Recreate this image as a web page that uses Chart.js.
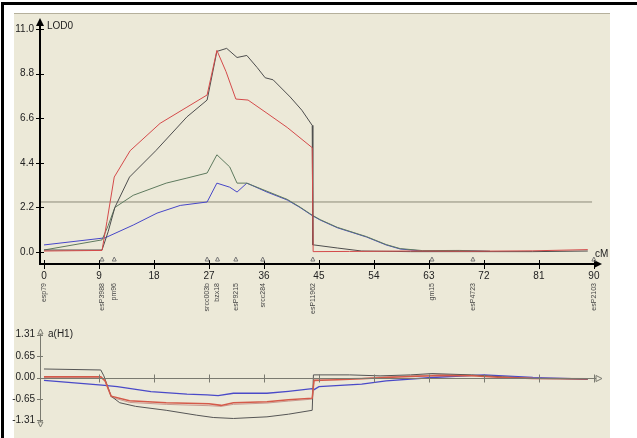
<!DOCTYPE html>
<html>
<head>
<meta charset="utf-8">
<title>LOD profile</title>
<script src="https://cdn.jsdelivr.net/npm/chart.js@4.4.0/dist/chart.umd.min.js"></script>
<style>
    body { margin: 0; width: 637px; height: 438px; overflow: hidden; position: relative; background: #fff; }
    #frame { position: absolute; left: 1px; top: 2px; width: 640px; height: 440px; border-top: 3px solid #000; border-left: 3px solid #000; }
    #panel { position: absolute; left: 14px; top: 13px; width: 596px; height: 425px; background: #ece9d8; border-top: 1px solid #b5b09c; }
    #lodChart { position: absolute; left: 0; top: 0; }
    #effectChart { position: absolute; left: 0; top: 318px; }
</style>
</head>
<body>
<div id="frame"></div>
<div id="panel"></div>
<canvas id="lodChart" width="637" height="330"></canvas>
<canvas id="effectChart" width="637" height="120"></canvas>
<script>
// Axis ticks
const cmTicks = [0, 9, 18, 27, 36, 45, 54, 63, 72, 81, 90];
const lodTicks = [0, 2.2, 4.4, 6.6, 8.8, 11.0];
const effectTicks = [-1.31, -0.65, 0, 0.65, 1.31];

// Markers along the map (cM) and their names
const markerPos = [0, 9.5, 11.5, 26.7, 28.4, 31.4, 35.8, 44, 63.5, 70.2, 90];
const markerNames = ['esp79', 'esP3988', 'pm96', 'srcc003b', 'bzx18', 'esP9215', 'srcc284', 'esP11962', 'gm15', 'esP4723', 'esP2103'];

// LOD threshold
const thresholdPos = [-0.65, 89.7];
const thresholdLod = [2.47, 2.47];

// LOD profiles (top panel)
const redPos = [0, 9.5, 10.3, 11.5, 14.1, 19, 23.4, 26.7, 28.3, 29.8, 31.4, 33.4, 36.5, 39.8, 43.9, 44.05, 50, 60, 70, 80, 89];
const redLod = [0.05, 0.08, 1.5, 3.7, 5.0, 6.35, 7.15, 7.75, 9.95, 8.9, 7.55, 7.5, 6.85, 6.15, 5.15, 0.02, 0.03, 0.05, 0.04, 0.06, 0.12];

const blackPos = [0, 9.5, 10.5, 11.6, 14, 18.3, 23.4, 26.7, 28.3, 29.9, 31.6, 33.2, 34.9, 36.2, 37.5, 40.3, 42.2, 43.9, 44.0, 44.2, 48, 52, 60, 70, 80, 89];
const blackLod = [0.1, 0.1, 1.0, 2.2, 3.7, 5.0, 6.67, 7.5, 9.9, 10.05, 9.6, 9.7, 9.1, 8.6, 8.5, 7.65, 7.0, 6.25, 0.35, 0.35, 0.2, 0.05, 0.02, 0.02, 0.02, 0.05];

const greenPos = [0, 9.5, 10.5, 11.6, 14.6, 20, 23.4, 26.7, 28.3, 30.4, 31.6, 33.2, 36.5, 39.8, 41.9, 43.9, 45.2, 48, 52.8, 56, 58.3, 62, 68, 73];
const greenLod = [0.1, 0.6, 1.3, 2.2, 2.8, 3.4, 3.65, 3.9, 4.8, 4.2, 3.4, 3.4, 3.0, 2.6, 2.22, 1.82, 1.6, 1.22, 0.76, 0.37, 0.17, 0.07, 0.08, 0.04];

const bluePos = [0, 10, 14.6, 18.5, 22.3, 26.7, 28.3, 30.4, 31.6, 33.2, 36.5, 39.8, 41.9, 43.9, 45.2, 48, 52.8, 56, 58.3, 62, 68, 73];
const blueLod = [0.35, 0.7, 1.33, 1.92, 2.3, 2.47, 3.4, 3.2, 2.96, 3.4, 2.96, 2.57, 2.2, 1.8, 1.58, 1.2, 0.74, 0.35, 0.15, 0.05, 0.07, 0.03];

// Additive effect a(H1) (bottom panel)
const redEffPos = [0, 9.3, 10, 11, 14, 20, 27, 29, 31, 36.5, 40, 43.9, 44.2, 48, 52, 56, 60, 65, 70, 75, 80, 89];
const redEff = [0.02, 0.02, -0.1, -0.57, -0.71, -0.77, -0.8, -0.85, -0.77, -0.74, -0.68, -0.63, -0.09, -0.07, -0.04, 0.0, 0.03, 0.06, 0.05, 0.0, -0.03, -0.04];

const blackEffPos = [0, 9.3, 9.8, 11, 12.4, 15, 20, 25, 27.7, 31, 36.5, 40, 43.9, 44.1, 50, 55, 60, 63.5, 70, 75, 80, 89];
const blackEff = [0.26, 0.23, 0.05, -0.57, -0.77, -0.88, -1.0, -1.15, -1.22, -1.25, -1.2, -1.12, -1.0, 0.08, 0.08, 0.05, 0.08, 0.12, 0.08, 0.02, -0.03, -0.05];

const greenEffPos = [0, 9.3, 10, 11, 14, 20, 27, 29, 31, 36.5, 40, 43.9, 44.2, 48, 52, 56, 60, 65, 70, 75, 80, 89];
const greenEff = [0.0, 0.0, -0.12, -0.6, -0.76, -0.82, -0.86, -0.88, -0.82, -0.78, -0.72, -0.66, -0.05, -0.04, -0.02, 0.02, 0.05, 0.09, 0.07, 0.02, -0.02, -0.03];

const blueEffPos = [0, 9.5, 12, 17.5, 23.4, 26.7, 28.5, 31, 36.5, 40, 43.9, 44.2, 45, 52, 56, 63.5, 72, 80, 89];
const blueEff = [-0.09, -0.23, -0.28, -0.43, -0.51, -0.53, -0.55, -0.48, -0.48, -0.42, -0.34, -0.37, -0.28, -0.2, -0.1, 0.0, 0.08, 0.0, -0.05];

const xMin = -0.65;
const xMax = 91;

function toPoints(xs, ys) {
    return xs.map((x, i) => ({ x: x, y: ys[i] }));
}

function lineSet(xs, ys, color, width) {
    return {
        data: toPoints(xs, ys),
        borderColor: color,
        borderWidth: width || 1,
        pointRadius: 0,
        tension: 0,
        fill: false
    };
}

function arrowHead(ctx, x, y, dir, size, filled) {
    ctx.beginPath();
    if (dir === 'up') {
        ctx.moveTo(x, y); ctx.lineTo(x - size / 2, y + size); ctx.lineTo(x + size / 2, y + size);
    } else if (dir === 'down') {
        ctx.moveTo(x, y); ctx.lineTo(x - size / 2, y - size); ctx.lineTo(x + size / 2, y - size);
    } else {
        ctx.moveTo(x, y); ctx.lineTo(x - size, y - size / 2); ctx.lineTo(x - size, y + size / 2);
    }
    ctx.closePath();
    if (filled) ctx.fill(); else ctx.stroke();
}

// Axes, arrows, markers for the LOD panel
const lodAxes = {
    id: 'lodAxes',
    afterDraw(chart) {
        const ctx = chart.ctx;
        const xs = chart.scales.x, ys = chart.scales.y;
        const a = chart.chartArea;
        ctx.save();
        ctx.strokeStyle = '#000';
        ctx.fillStyle = '#000';
        ctx.lineWidth = 2;
        ctx.beginPath();
        ctx.moveTo(a.left, a.top + 6);
        ctx.lineTo(a.left, a.bottom);
        ctx.lineTo(a.right - 6, a.bottom);
        ctx.stroke();
        arrowHead(ctx, a.left, a.top - 2, 'up', 8, true);
        arrowHead(ctx, a.right + 2, a.bottom, 'right', 8, true);

        ctx.lineWidth = 1;
        lodTicks.forEach(v => {
            const y = Math.round(ys.getPixelForValue(v)) + 0.5;
            ctx.beginPath(); ctx.moveTo(a.left - 4, y); ctx.lineTo(a.left + 4, y); ctx.stroke();
        });
        cmTicks.forEach(v => {
            const x = Math.round(xs.getPixelForValue(v)) + 0.5;
            ctx.beginPath(); ctx.moveTo(x, a.bottom - 4); ctx.lineTo(x, a.bottom + 5); ctx.stroke();
        });

        // marker triangles and names
        ctx.strokeStyle = '#777';
        ctx.fillStyle = '#444';
        ctx.font = '7px "Liberation Sans", Arial, sans-serif';
        markerPos.forEach((p, i) => {
            const x = xs.getPixelForValue(p);
            if (i > 0) {
                ctx.beginPath();
                ctx.moveTo(x, a.bottom - 7); ctx.lineTo(x - 2, a.bottom - 3); ctx.lineTo(x + 2, a.bottom - 3);
                ctx.closePath(); ctx.stroke();
            }
            ctx.save();
            ctx.translate(x, 283);
            ctx.rotate(-Math.PI / 2);
            ctx.textAlign = 'right';
            ctx.textBaseline = 'middle';
            ctx.fillText(markerNames[i], 0, 0);
            ctx.restore();
        });

        ctx.fillStyle = '#222';
        ctx.font = '10px "Liberation Sans", Arial, sans-serif';
        ctx.textBaseline = 'middle';
        ctx.textAlign = 'left';
        ctx.fillText('LOD0', a.left + 7, a.top + 6);
        ctx.fillText('cM', a.right - 5, a.bottom - 10);
        ctx.restore();
    }
};

// Axes for the effect panel
const effectAxes = {
    id: 'effectAxes',
    afterDraw(chart) {
        const ctx = chart.ctx;
        const xs = chart.scales.x, ys = chart.scales.y;
        const a = chart.chartArea;
        const y0 = Math.round(ys.getPixelForValue(0)) + 0.5;
        ctx.save();
        ctx.strokeStyle = '#7a7a70';
        ctx.lineWidth = 1;
        ctx.beginPath();
        ctx.moveTo(a.left + 0.5, a.top + 5);
        ctx.lineTo(a.left + 0.5, a.bottom - 5);
        ctx.moveTo(a.left, y0);
        ctx.lineTo(a.right - 4, y0);
        ctx.stroke();
        arrowHead(ctx, a.left + 0.5, a.top, 'up', 5, false);
        arrowHead(ctx, a.left + 0.5, a.bottom, 'down', 5, false);
        arrowHead(ctx, a.right + 2, y0, 'right', 6, false);
        effectTicks.forEach(v => {
            const y = Math.round(ys.getPixelForValue(v)) + 0.5;
            ctx.beginPath(); ctx.moveTo(a.left - 3, y); ctx.lineTo(a.left + 3, y); ctx.stroke();
        });
        cmTicks.forEach(v => {
            if (v === 0) return;
            const x = Math.round(xs.getPixelForValue(v)) + 0.5;
            ctx.beginPath(); ctx.moveTo(x, y0 - 4); ctx.lineTo(x, y0 + 4); ctx.stroke();
        });
        ctx.fillStyle = '#222';
        ctx.font = '10px "Liberation Sans", Arial, sans-serif';
        ctx.textBaseline = 'middle';
        ctx.fillText('a(H1)', a.left + 8, a.top + 5);
        ctx.restore();
    }
};

const tickFont = { family: '"Liberation Sans", Arial, sans-serif', size: 10 };

function buildLodChart() {
    const canvasElem = document.getElementById('lodChart');
    return new Chart(canvasElem, {
        type: 'line',
        data: {
            datasets: [
                lineSet(redPos, redLod, '#d44a4a'),
                lineSet(blackPos, blackLod, '#4d4d4d'),
                lineSet(greenPos, greenLod, '#5e7a5e'),
                lineSet(bluePos, blueLod, '#4646c8'),
                lineSet(thresholdPos, thresholdLod, '#8c8a78')
            ]
        },
        options: {
            responsive: false,
            animation: false,
            layout: { padding: { left: 0, top: 20, right: 37, bottom: 0 } },
            plugins: { legend: { display: false }, tooltip: { enabled: false } },
            scales: {
                x: {
                    type: 'linear',
                    min: xMin,
                    max: xMax,
                    grid: { display: false, drawTicks: false },
                    border: { display: false },
                    afterBuildTicks: axis => { axis.ticks = cmTicks.map(v => ({ value: v })); },
                    afterFit: axis => { axis.height = 66; },
                    ticks: { padding: 6, color: '#222', font: tickFont, maxRotation: 0, autoSkip: false }
                },
                y: {
                    min: -0.59,
                    max: 11.45,
                    grid: { display: false, drawTicks: false },
                    border: { display: false },
                    afterBuildTicks: axis => { axis.ticks = lodTicks.map(v => ({ value: v })); },
                    afterFit: axis => { axis.width = 40; },
                    ticks: { padding: 6, color: '#222', font: tickFont, callback: v => v.toFixed(1) }
                }
            }
        },
        plugins: [lodAxes]
    });
}

function buildEffectChart() {
    const canvasElem = document.getElementById('effectChart');
    return new Chart(canvasElem, {
        type: 'line',
        data: {
            datasets: [
                lineSet(redEffPos, redEff, '#d45a4a', 1.5),
                lineSet(blackEffPos, blackEff, '#555555'),
                lineSet(greenEffPos, greenEff, '#c89a90'),
                lineSet(blueEffPos, blueEff, '#4a4ac8', 1.3)
            ]
        },
        options: {
            responsive: false,
            animation: false,
            layout: { padding: { left: 0, top: 10, right: 37, bottom: 6 } },
            plugins: { legend: { display: false }, tooltip: { enabled: false } },
            scales: {
                x: { type: 'linear', min: xMin, max: xMax, display: false },
                y: {
                    min: -1.51,
                    max: 1.48,
                    grid: { display: false, drawTicks: false },
                    border: { display: false },
                    afterBuildTicks: axis => { axis.ticks = effectTicks.map(v => ({ value: v })); },
                    afterFit: axis => { axis.width = 40; },
                    ticks: { padding: 5, color: '#222', font: tickFont, callback: v => v.toFixed(2) }
                }
            }
        },
        plugins: [effectAxes]
    });
}

try {
    buildLodChart();
    buildEffectChart();
} catch (e) {
    console.error('Error creating chart:', e);
}
</script>
</body>
</html>
